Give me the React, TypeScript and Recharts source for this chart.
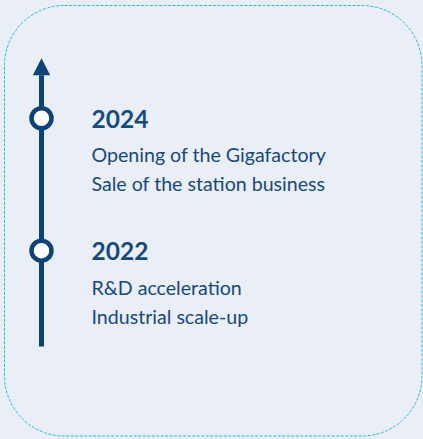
import React from "react";
import {
    ComposedChart,
    Line,
    Scatter,
    XAxis,
    YAxis,
} from "recharts";

// milestones, newest on top
const years = [2024, 2022];
const titles = ["2024", "2022"];
const firstLines = ["Opening of the Gigafactory", "R&D acceleration"];
const secondLines = ["Sale of the station business", "Industrial scale-up"];

// the timeline axis runs from its start to the base of the arrow head
const axisStart = 2020.55;
const axisEnd = 2024.65;

const W = 423;
const H = 439;
const NAVY = "#0d4377";
const TEXT = "#164a7e";
const FONT = "Lato, 'Open Sans', sans-serif";

const milestones = years.map((y, i) => ({
    x: 0,
    y,
    title: titles[i],
    line1: firstLines[i],
    line2: secondLines[i],
}));

const axisData = [
    { x: 0, y: axisStart },
    { x: 0, y: axisEnd },
];

const ArrowDot = (props: any) => {
    const { cx, cy, index } = props;
    if (index !== axisData.length - 1) return <g key={`d${index}`} />;
    return (
        <path
            key={`d${index}`}
            d={`M${cx - 8.7},${cy} L${cx + 8.7},${cy} L${cx},${cy - 17} Z`}
            fill={NAVY}
        />
    );
};

const Milestone = (props: any) => {
    const { cx, cy, payload } = props;
    const tx = cx + 50;
    return (
        <g>
            <circle cx={cx} cy={cy} r={10} fill="#fff" stroke={NAVY} strokeWidth={4.5} />
            <g fontFamily={FONT} fill={TEXT}>
                <text x={tx} y={cy + 9.5} fontSize={24.5} fontWeight={700}>
                    {payload.title}
                </text>
                <text x={tx} y={cy + 44} fontSize={19.6}>
                    {payload.line1}
                </text>
                <text x={tx} y={cy + 73} fontSize={19.6}>
                    {payload.line2}
                </text>
            </g>
        </g>
    );
};

export default function App() {
    return (
        <div
            style={{
                position: "fixed",
                left: 0,
                top: 0,
                width: W,
                height: H,
                background: "#eaeef6",
            }}
        >
            <svg width={W} height={H} style={{ position: "absolute", left: 0, top: 0 }}>
                <rect
                    x={4.5}
                    y={5.5}
                    width={417.5}
                    height={430.5}
                    rx={60}
                    ry={60}
                    fill="none"
                    stroke="#27b9df"
                    strokeWidth={1}
                    strokeDasharray="3 1.5"
                />
            </svg>
            <div style={{ position: "absolute", left: 0, top: 0 }}>
                <ComposedChart
                    width={W}
                    height={H}
                    margin={{ top: 19, right: 0, bottom: 56, left: 41.5 }}
                >
                    <XAxis type="number" dataKey="x" domain={[0, 1]} hide />
                    <YAxis type="number" dataKey="y" domain={[2020, 2025.5]} hide />
                    <Line
                        data={axisData}
                        dataKey="y"
                        stroke={NAVY}
                        strokeWidth={5}
                        strokeLinecap="butt"
                        dot={ArrowDot}
                        activeDot={false}
                        isAnimationActive={false}
                    />
                    <Scatter
                        data={milestones}
                        dataKey="y"
                        shape={Milestone}
                        isAnimationActive={false}
                    />
                </ComposedChart>
            </div>
        </div>
    );
}
